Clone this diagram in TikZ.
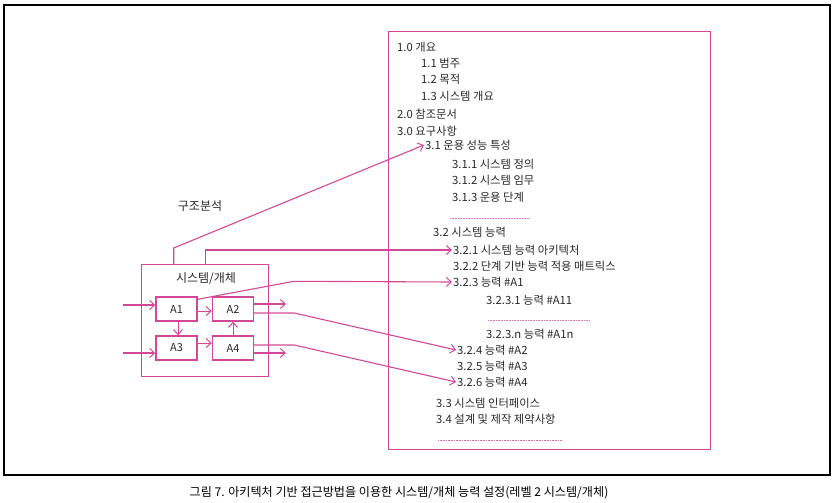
\documentclass[tikz,border=0pt]{standalone}
\usepackage{fontspec}
\setmainfont{Noto Sans CJK KR}
\usetikzlibrary{arrows.meta}
\definecolor{pk}{RGB}{210,72,150}
\definecolor{tx}{RGB}{40,40,40}
\tikzset{
  arr/.style={draw=pk, line width=1.1pt, -{Straight Barb[length=5pt,width=9pt,line width=1pt]}},
  ln/.style={draw=pk, line width=1.1pt},
  abox/.style={draw=pk, line width=1.4pt, minimum width=41pt, minimum height=24pt, inner sep=0pt, font=\fontsize{11}{12}\selectfont, text=tx},
  doc/.style={anchor=west, inner sep=1pt, font=\fontsize{11.3}{12}\selectfont, text=tx},
  dots/.style={draw=pk!75, line width=0.8pt, dash pattern=on 0.7pt off 0.9pt}
}
\begin{document}
\begin{tikzpicture}[x=1pt,y=-1pt]
\useasboundingbox (0,0) rectangle (835,503);
% outer frame
\draw[line width=1.2pt, black] (4,5) rectangle (830,475);
% document box
\node[draw=pk, line width=1.4pt, minimum width=322pt, minimum height=418pt, inner sep=0pt, anchor=north west] (docbox) at (388,31) {};
% system box
\node[draw=pk, line width=1.4pt, minimum width=127pt, minimum height=112pt, inner sep=0pt, anchor=north west] (sys) at (141,264) {};
\node[font=\fontsize{12}{13}\selectfont, text=tx] (systitle) at (206,279) {시스템/개체};
\node[abox] (a1) at (176.5,309) {A1};
\node[abox] (a2) at (233,309) {A2};
\node[abox] (a3) at (176.5,348) {A3};
\node[abox] (a4) at (233,348) {A4};
\node[font=\fontsize{12}{13}\selectfont, text=tx] (lbl) at (200,206) {구조분석};
% document texts
\node[doc] (t10) at (396,47) {1.0 개요};
\node[doc] (t11) at (420,63) {1.1 범주};
\node[doc] (t12) at (420,79) {1.2 목적};
\node[doc] (t13) at (420,96) {1.3 시스템 개요};
\node[doc] (t20) at (396,114) {2.0 참조문서};
\node[doc] (t30) at (396,131) {3.0 요구사항};
\node[doc] (t31) at (424,145) {3.1 운용 성능 특성};
\node[doc] (t311) at (451,164) {3.1.1 시스템 정의};
\node[doc] (t312) at (451,180) {3.1.2 시스템 임무};
\node[doc] (t313) at (451,197) {3.1.3 운용 단계};
\node[doc] (t32) at (432,232) {3.2 시스템 능력};
\node[doc] (t321) at (452,250) {3.2.1 시스템 능력 아키텍처};
\node[doc] (t322) at (452,266) {3.2.2 단계 기반 능력 적용 매트릭스};
\node[doc] (t323) at (452,282) {3.2.3 능력 \#A1};
\node[doc] (t3231) at (485,300) {3.2.3.1 능력 \#A11};
\node[doc] (t323n) at (485,334) {3.2.3.n 능력 \#A1n};
\node[doc] (t324) at (456,350) {3.2.4 능력 \#A2};
\node[doc] (t325) at (456,366) {3.2.5 능력 \#A3};
\node[doc] (t326) at (456,382) {3.2.6 능력 \#A4};
\node[doc] (t33) at (435,403) {3.3 시스템 인터페이스};
\node[doc] (t34) at (435,419) {3.4 설계 및 제작 제약사항};
% dotted separators
\draw[dots] (450,218) -- (530,218);
\draw[dots] (488,320) -- (590,320);
\draw[dots] (438,440) -- (562,440);
% inner arrows
\coordinate (in1) at (123,305);
\coordinate (in3) at (123,353);
\coordinate (out2) at (286,304);
\coordinate (out4) at (286,353);
\draw[arr] (in1) -- (in1 -| a1.west);
\draw[arr] (in3) -- (in3 -| a3.west);
\draw[arr] (out2 -| a2.east) -- (out2);
\draw[arr] (out4 -| a4.east) -- (out4);
\draw[arr, line width=0.9pt] ([yshift=-2pt]a1.east) -- ([yshift=-2pt]a2.west);
\draw[arr, line width=0.9pt] ([yshift=5pt]a3.east) -- ([yshift=5pt]a4.west);
\draw[arr, line width=0.9pt] ([xshift=1.5pt]a1.south) -- ([xshift=1.5pt]a3.north);
\draw[arr, line width=0.9pt] (a4.north) -- (a2.south);
% connectors to document
\draw[arr] ([xshift=-31.5pt]sys.north) -- ++(0,-16) -- (t31.west);
\draw[arr] (sys.north) |- (t321.west);
\draw[arr] ([yshift=-3pt]a1.north east) -- ++(96,-18) -- (t323.west);
\draw[arr] ([yshift=-4pt]a2.east) -- ++(40,0) -- (t324.west);
\draw[arr] ([yshift=3pt]a4.east) -- ++(40,0) -- (t326.west);
% caption
\node[font=\fontsize{12.1}{13}\selectfont, text=black] (cap) at (399,493) {그림 7. 아키텍처 기반 접근방법을 이용한 시스템/개체 능력 설정(레벨 2 시스템/개체)};
\end{tikzpicture}
\end{document}
